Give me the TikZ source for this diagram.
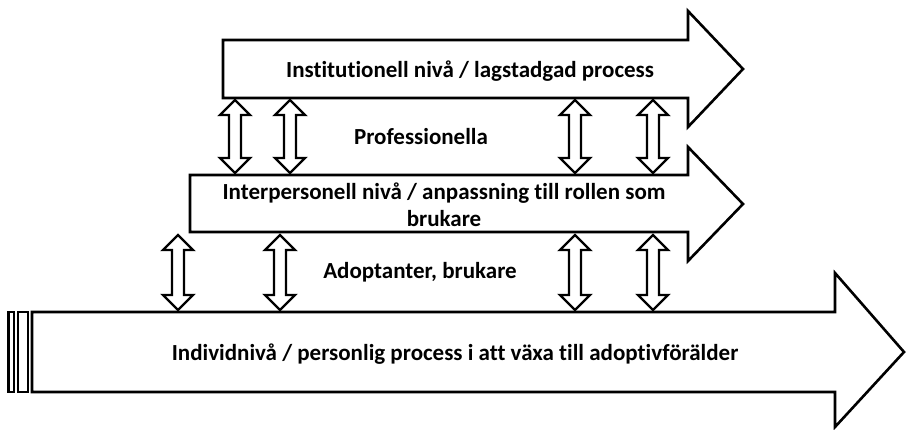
\documentclass[tikz,border=0pt]{standalone}
\usepackage{fontspec}
\setmainfont[Ligatures=NoCommon]{Carlito}
\tikzset{
  bigarrow/.style={draw=black, fill=white, line width=2.6pt, line join=miter},
  dbl/.style={draw=black, fill=white, line width=2.4pt, line join=miter},
  lbl/.style={font=\bfseries\fontsize{23}{27}\selectfont, inner sep=0pt, align=center, text=black}
}
\newcommand{\mydblarrow}[3]{%
  \path[dbl] (#1,#2) -- (#1+15,#2+15) -- (#1+6,#2+15) -- (#1+6,#3-15) -- (#1+15,#3-15)
    -- (#1,#3) -- (#1-15,#3-15) -- (#1-6,#3-15) -- (#1-6,#2+15) -- (#1-15,#2+15) -- cycle;}
\begin{document}
\begin{tikzpicture}[x=1pt,y=-1pt]
\useasboundingbox (0,0) rectangle (907,430);
% top arrow
\path[bigarrow] (223,40) -- (688,40) -- (688,11) -- (743,69) -- (688,127) -- (688,98) -- (223,98) -- cycle;
% middle arrow
\path[bigarrow] (190,175) -- (688,175) -- (688,147) -- (743,204) -- (688,261) -- (688,232) -- (190,232) -- cycle;
% bottom arrow
\path[bigarrow] (32,312) -- (835,312) -- (835,273) -- (904,352) -- (835,427) -- (835,392) -- (32,392) -- cycle;
\path[bigarrow] (8.5,312) rectangle (14,392);
\path[bigarrow] (18,312) rectangle (28,392);
% double arrows
\mydblarrow{235}{100}{173}
\mydblarrow{290}{100}{173}
\mydblarrow{575}{100}{173}
\mydblarrow{653}{100}{173}
\mydblarrow{178}{235}{310}
\mydblarrow{280}{235}{310}
\mydblarrow{575}{235}{310}
\mydblarrow{653}{235}{310}
% labels
\node[lbl] (inst) at (470,71) {Institutionell nivå / lagstadgad process};
\node[lbl] (prof) at (421,137) {Professionella};
\node[lbl] (inter) at (444,205) {Interpersonell nivå / anpassning till rollen som\\brukare};
\node[lbl] (adopt) at (420,272) {Adoptanter, brukare};
\node[lbl] (indiv) at (455,354) {Individnivå / personlig process i att växa till adoptivförälder};
\end{tikzpicture}
\end{document}
